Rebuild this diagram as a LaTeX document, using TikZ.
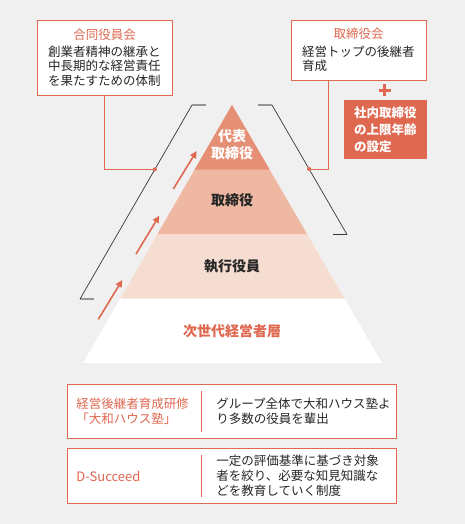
\documentclass[tikz,border=0pt]{standalone}
\usepackage{fontspec}
\setmainfont{Noto Sans CJK JP}
\usetikzlibrary{arrows.meta,positioning,calc}
\definecolor{bg}{RGB}{239,240,239}
\definecolor{acc}{RGB}{223,104,80}
\definecolor{lay1}{RGB}{229,144,117}
\definecolor{lay2}{RGB}{238,184,163}
\definecolor{lay3}{RGB}{246,221,209}
\definecolor{brk}{RGB}{55,55,55}
\definecolor{brkg}{RGB}{150,150,150}
\definecolor{txt}{RGB}{38,38,38}
\tikzset{
  ob/.style={rectangle,draw=acc,fill=white,line width=0.9pt,inner sep=0pt,
    minimum width=#1},
  ob/.default=135pt,
  bt/.style={font=\fontsize{12.5}{14.4}\selectfont,text=txt,align=left,inner sep=0pt},
  pl/.style={font=\fontsize{14}{16.6}\selectfont\bfseries,text=txt,align=center,inner sep=0pt},
  lnk/.style={draw=acc,line width=0.8pt},
  dot/.style={circle,fill=acc,inner sep=0pt,minimum size=4pt},
  up/.style={-{Triangle[length=7pt,width=6.5pt]},line width=1.6pt,color=acc},
  brl/.style={draw=brk,line width=0.7pt},
  bre/.style={draw=brkg,line width=1.4pt},
}

\begin{document}
\begin{tikzpicture}[x=1pt,y=-1pt,node distance=10pt]
  \useasboundingbox (0,0) rectangle (465,524);
  \fill[bg] (0,0) rectangle (465,524);

  % boxes on top
  \node[ob,minimum height=75pt,text width=113pt,bt] (jointbox) at (104.5,57.5)
    {{\color{acc}\hfill 合同役員会\hfill\null}\\[3pt]創業者精神の継承と\\中長期的な経営責任\\を果たすための体制};
  \node[ob,minimum height=60pt,text width=113pt,bt] (boardbox) at (358.5,50)
    {{\color{acc}\hfill 取締役会\hfill\null}\\[3pt]経営トップの後継者\\育成};
  \coordinate (plus) at (384.5,90.5);
  \draw[acc,line width=2.6pt] ([xshift=-6pt]plus) -- ([xshift=6pt]plus)
    ([yshift=-6pt]plus) -- ([yshift=6pt]plus);
  \node[fill=acc,minimum width=83pt,minimum height=59pt,text width=63pt,inner sep=0pt,
    align=left,text=white,font=\fontsize{12.5}{17}\selectfont\bfseries] (agebox) at (385.5,129.5)
    {社内取締役\\の上限年齢\\の設定};

  % pyramid
  \coordinate (apex) at (232,105);
  \coordinate (bl) at (83,363);
  \coordinate (br) at (382,363);
  \fill[white] (apex) -- (bl) -- (br) -- cycle;
  \fill[lay3] (apex) -- ($(apex)!0.75!(bl)$) -- ($(apex)!0.75!(br)$) -- cycle;
  \fill[lay2] (apex) -- ($(apex)!0.5!(bl)$) -- ($(apex)!0.5!(br)$) -- cycle;
  \fill[lay1] (apex) -- ($(apex)!0.25!(bl)$) -- ($(apex)!0.25!(br)$) -- cycle;
  \node[pl,text=white] (ceo) at (232,145) {代表\\取締役};
  \node[pl] (dir) at (232,200) {取締役};
  \node[pl] (exe) at (232,266) {執行役員};
  \node[pl,text=acc] (next) at (232,331) {次世代経営者層};

  % brackets
  \coordinate (lt) at (192,105);
  \coordinate (lb) at (80,299);
  \coordinate (rt) at (272,105);
  \coordinate (rb) at (347,234.5);
  \draw[bre] (lt) -- ++(14,0);
  \draw[bre] (lb) -- ++(14,0);
  \draw[bre] (rt) -- ++(-14,0);
  \draw[brl,line width=1.2pt] (rb) -- ++(-14,0);
  \draw[brl] (lt) -- (lb);
  \draw[brl] (rt) -- (rb);
  \node[dot] (ldot) at ($(lt)!0.332!(lb)$) {};
  \node[dot] (rdot) at ($(rt)!0.494!(rb)$) {};
  \draw[lnk] (jointbox.south) |- (ldot);
  \draw[lnk] ([xshift=38pt]boardbox.south west) |- (rdot);

  % arrows
  \coordinate (a1s) at (173.3,189);
  \coordinate (a1e) at (196.7,151);
  \coordinate (a2s) at (136,254);
  \coordinate (a2e) at (159.3,215.7);
  \coordinate (a3s) at (98.3,319.3);
  \coordinate (a3e) at (122.3,280);
  \draw[up] (a1s) -- (a1e);
  \draw[up] (a2s) -- (a2e);
  \draw[up] (a3s) -- (a3e);

  % programmes
  \node[ob=329pt,minimum height=54pt] (juku) at (232.2,411.3) {};
  \node[bt,text=acc,font=\fontsize{12.5}{15.7}\selectfont,anchor=west] (jukul) at ([xshift=9pt]juku.west)
    {経営後継者育成研修\\「大和ハウス塾」};
  \node[bt,anchor=west] (jukur) at ([xshift=149pt]juku.west)
    {グループ全体で大和ハウス塾よ\\り多数の役員を輩出};
  \draw[acc,line width=1pt] ([shift={(134.6pt,-7pt)}]juku.north west) -- ([shift={(134.6pt,7pt)}]juku.south west);
  \node[ob=329pt,minimum height=54.6pt] (succ) at (232.2,476) {};
  \node[bt,text=acc,font=\fontsize{13}{15}\selectfont,anchor=west] (succl) at ([xshift=9pt]succ.west)
    {D-Succeed};
  \node[bt,font=\fontsize{12.5}{15.2}\selectfont,anchor=west] (succr) at ([xshift=149pt]succ.west)
    {一定の評価基準に基づき対象\\者を絞り、必要な知見知識な\\どを教育していく制度};
  \draw[acc,line width=1pt] ([shift={(134.6pt,-7pt)}]succ.north west) -- ([shift={(134.6pt,7pt)}]succ.south west);
\end{tikzpicture}
\end{document}
